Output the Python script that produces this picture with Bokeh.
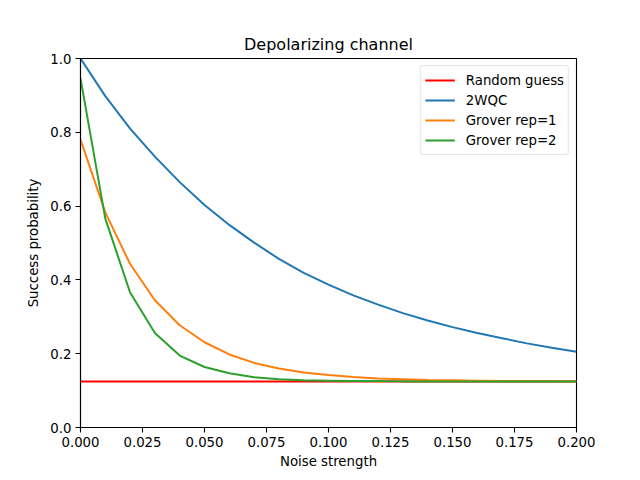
from bokeh.plotting import figure
from bokeh.models import Range1d, FixedTicker, PrintfTickFormatter, Legend, LegendItem
from bokeh.embed import file_html
from bokeh.resources import INLINE

noise = [0.00, 0.01, 0.02, 0.03, 0.04, 0.05, 0.06, 0.07, 0.08, 0.09, 0.10,
         0.11, 0.12, 0.13, 0.14, 0.15, 0.16, 0.17, 0.18, 0.19, 0.20]
random_guess = [0.125] * len(noise)
wqc2 = [1.000, 0.898, 0.810, 0.734, 0.665, 0.603, 0.549, 0.501, 0.457, 0.419, 0.387,
        0.358, 0.333, 0.310, 0.290, 0.272, 0.256, 0.242, 0.228, 0.216, 0.205]
grover1 = [0.780, 0.583, 0.443, 0.345, 0.277, 0.231, 0.198, 0.175, 0.160, 0.149, 0.142,
           0.137, 0.133, 0.131, 0.129, 0.128, 0.127, 0.126, 0.126, 0.125, 0.125]
grover2 = [0.946, 0.566, 0.366, 0.256, 0.195, 0.164, 0.147, 0.136, 0.131, 0.128, 0.127,
           0.126, 0.126, 0.125, 0.125, 0.125, 0.125, 0.125, 0.125, 0.125, 0.125]
x_ticks = [0.0, 0.025, 0.05, 0.075, 0.1, 0.125, 0.15, 0.175, 0.2]
y_ticks = [0.0, 0.2, 0.4, 0.6, 0.8, 1.0]

FONT = "DejaVu Sans"

p = figure(output_backend="svg", toolbar_location=None,
           frame_width=496, frame_height=369,
           x_range=Range1d(0, 0.2), y_range=Range1d(0, 1),
           title="Depolarizing channel")
p.min_border_left = 80
p.min_border_right = 56
p.min_border_top = 58
p.min_border_bottom = 45
p.background_fill_color = "white"
p.border_fill_color = "white"
p.outline_line_color = "black"
p.outline_line_width = 1.1
p.grid.visible = False

p.title.align = "center"
p.title.text_font = FONT
p.title.text_font_size = "16px"
p.title.text_font_style = "normal"
p.title.text_color = "black"
p.title.standoff = 9

for ax in (p.xaxis[0], p.yaxis[0]):
    ax.major_label_text_font = FONT
    ax.major_label_text_font_size = "13.3px"
    ax.major_label_text_color = "black"
    ax.axis_label_text_font = FONT
    ax.axis_label_text_font_size = "13.3px"
    ax.axis_label_text_font_style = "normal"
    ax.axis_label_text_color = "black"
    ax.major_tick_in = 0
    ax.major_tick_out = 5
    ax.minor_tick_in = 0
    ax.minor_tick_out = 0
    ax.axis_line_color = "black"
    ax.major_tick_line_color = "black"
    ax.axis_line_width = 1.1
    ax.major_tick_line_width = 1.1
    ax.major_label_standoff = 4

p.xaxis[0].ticker = FixedTicker(ticks=x_ticks)
p.xaxis[0].formatter = PrintfTickFormatter(format="%.3f")
p.xaxis[0].axis_label = "Noise strength"
p.xaxis[0].axis_label_standoff = 4
p.yaxis[0].ticker = FixedTicker(ticks=y_ticks)
p.yaxis[0].formatter = PrintfTickFormatter(format="%.1f")
p.yaxis[0].axis_label = "Success probability"
p.yaxis[0].axis_label_standoff = 6

r0 = p.line(noise, random_guess, line_color="#ff0000", line_width=2)
r1 = p.line(noise, wqc2, line_color="#1f77b4", line_width=2)
r2 = p.line(noise, grover1, line_color="#ff7f0e", line_width=2)
r3 = p.line(noise, grover2, line_color="#2ca02c", line_width=2)

legend = Legend(items=[
    LegendItem(label="Random guess", renderers=[r0]),
    LegendItem(label="2WQC", renderers=[r1]),
    LegendItem(label="Grover rep=1", renderers=[r2]),
    LegendItem(label="Grover rep=2", renderers=[r3]),
], location="top_right")
legend.margin = 7
legend.padding = 4
legend.spacing = 0
legend.label_text_font = FONT
legend.label_text_font_size = "13.3px"
legend.label_text_color = "black"
legend.glyph_width = 30
legend.glyph_height = 20
legend.label_height = 20
legend.label_standoff = 11
legend.border_line_color = "#cccccc"
legend.border_line_width = 1
legend.border_radius = 3
legend.background_fill_alpha = 0.8
p.add_layout(legend, "center")

open("out.html", "w").write(file_html(p, INLINE))
